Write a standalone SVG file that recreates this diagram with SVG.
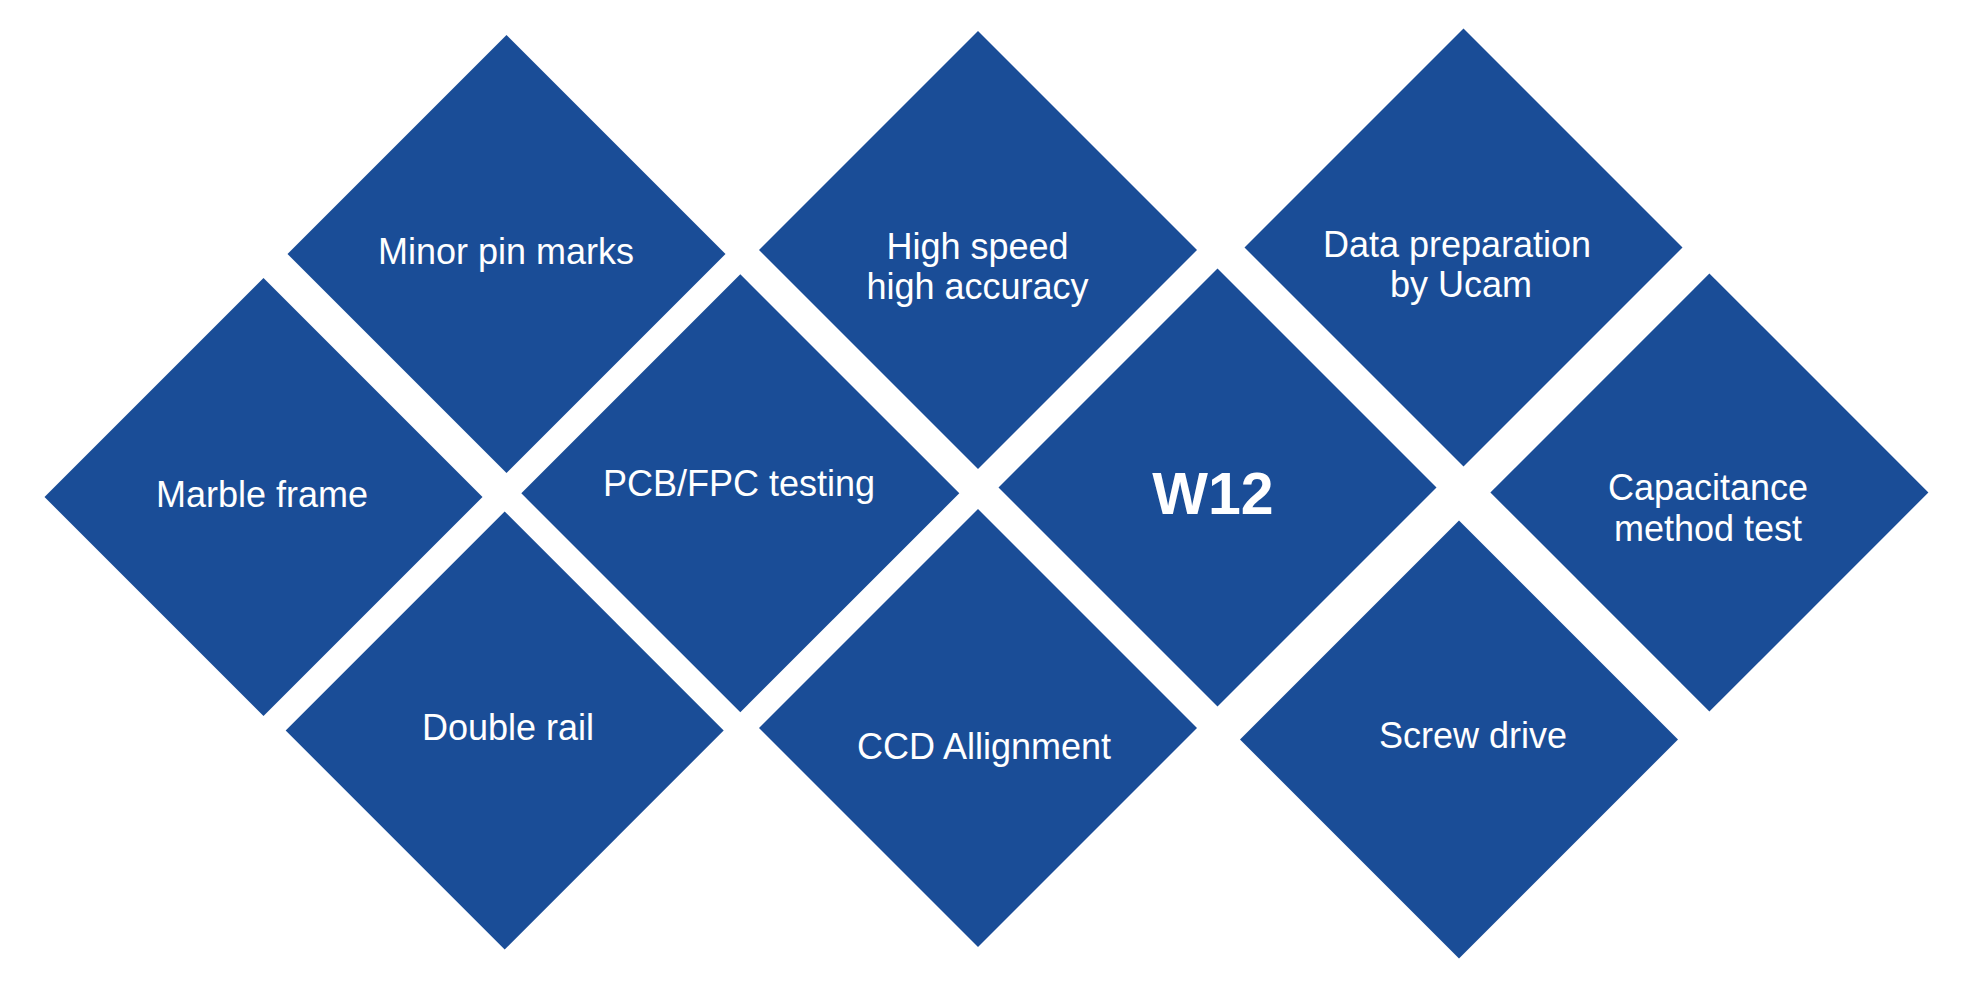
<svg xmlns="http://www.w3.org/2000/svg" xmlns:xlink="http://www.w3.org/1999/xlink" width="1962" height="996" viewBox="0 0 1962 996">
  <style>
    .d { fill: #1a4d97; }
    .t { font-family: "Liberation Sans", Arial, sans-serif; font-size: 36px; fill: #ffffff; text-anchor: middle; }
    .b { font-family: "Liberation Sans", Arial, sans-serif; font-size: 59px; font-weight: bold; fill: #ffffff; text-anchor: middle; }
  </style>
  <defs>
    <polygon id="dia" class="d" points="0,-219 219,0 0,219 -219,0"/>
  </defs>
  <rect width="1962" height="996" fill="#ffffff"/>
  <g id="connectors"></g>
  <g id="minor-pin-marks">
    <use xlink:href="#dia" href="#dia" x="506.5" y="254"/>
    <text class="t" x="506" y="264">Minor pin marks</text>
  </g>
  <g id="marble-frame">
    <use xlink:href="#dia" href="#dia" x="263.5" y="497"/>
    <text class="t" x="262" y="507">Marble frame</text>
  </g>
  <g id="high-speed">
    <use xlink:href="#dia" href="#dia" x="978" y="250"/>
    <text class="t" x="977.5" y="258.5">High speed</text>
    <text class="t" x="977.5" y="298.5">high accuracy</text>
  </g>
  <g id="pcb-fpc-testing">
    <use xlink:href="#dia" href="#dia" x="740.3" y="493.3"/>
    <text class="t" x="739" y="496">PCB/FPC testing</text>
  </g>
  <g id="w12">
    <use xlink:href="#dia" href="#dia" x="1217.5" y="487.5"/>
    <text class="b" x="1213" y="514">W12</text>
  </g>
  <g id="data-preparation">
    <use xlink:href="#dia" href="#dia" x="1463.5" y="247.5"/>
    <text class="t" x="1457" y="257">Data preparation</text>
    <text class="t" x="1461" y="297">by Ucam</text>
  </g>
  <g id="capacitance">
    <use xlink:href="#dia" href="#dia" x="1709.4" y="492.5"/>
    <text class="t" x="1708" y="500">Capacitance</text>
    <text class="t" x="1708" y="540.5">method test</text>
  </g>
  <g id="double-rail">
    <use xlink:href="#dia" href="#dia" x="504.7" y="730.5"/>
    <text class="t" x="508" y="739.5">Double rail</text>
  </g>
  <g id="ccd-allignment">
    <use xlink:href="#dia" href="#dia" x="978" y="728"/>
    <text class="t" x="984" y="758.5">CCD Allignment</text>
  </g>
  <g id="screw-drive">
    <use xlink:href="#dia" href="#dia" x="1459" y="739.5"/>
    <text class="t" x="1473" y="747.5">Screw drive</text>
  </g>
</svg>
